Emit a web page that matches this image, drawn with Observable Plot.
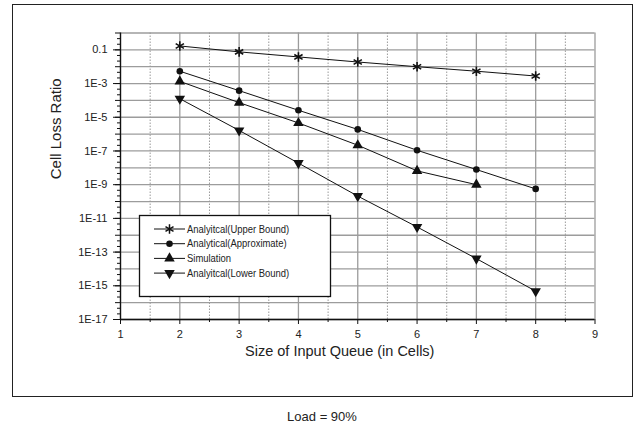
<!DOCTYPE html>
<html>
<head>
<meta charset="utf-8">
<script src="https://cdn.jsdelivr.net/npm/d3@7"></script>
<script src="https://cdn.jsdelivr.net/npm/@observablehq/plot@0.6"></script>
<style>
  html, body { margin: 0; padding: 0; background: #fff; }
  #wrap { position: relative; width: 644px; height: 431px; overflow: hidden; font-family: "Liberation Sans", Arial, sans-serif; }
  #border { position: absolute; left: 12px; top: 4px; width: 619px; height: 391px; border: 1.3px solid #222; }
  #chart { position: absolute; left: 0; top: 0; }
  #caption { position: absolute; left: 0; top: 409px; width: 644px; text-align: center; font-size: 13px; color: #222; }
</style>
</head>
<body>
<div id="wrap">
  <div id="border"></div>
  <div id="chart"></div>
  <div id="caption">Load = 90%</div>
</div>
<script>
// ---- data ----
const queueSizes = [2, 3, 4, 5, 6, 7, 8];
const upperBound = [0.17, 0.076, 0.038, 0.019, 0.010, 0.0054, 0.0028];
const approximate = [5.4e-3, 3.8e-4, 2.6e-5, 1.9e-6, 1.1e-7, 7.9e-9, 5.6e-10];
const simulation = [1.35e-3, 7.4e-5, 4.6e-6, 2.2e-7, 6.6e-9, 1.0e-9];
const lowerBound = [1.26e-4, 1.66e-6, 1.9e-8, 2.1e-10, 3.1e-12, 4.1e-14, 4.8e-16];

const seriesNames = ["Analyitcal(Upper Bound)", "Analytical(Approximate)", "Simulation", "Analyitcal(Lower Bound)"];
const xTicks = [1, 2, 3, 4, 5, 6, 7, 8, 9];
const xHalfTicks = [1.5, 2.5, 3.5, 4.5, 5.5, 6.5, 7.5, 8.5];
const yTickValues = [1e-1, 1e-3, 1e-5, 1e-7, 1e-9, 1e-11, 1e-13, 1e-15, 1e-17];
const yTickLabels = ["0.1", "1E-3", "1E-5", "1E-7", "1E-9", "1E-11", "1E-13", "1E-15", "1E-17"];
const decades = d3.range(0, 18).map(k => Math.pow(10, -k));
const minorTicks = d3.range(0, 17).flatMap(k => [Math.pow(10, -k - 1 / 3), Math.pow(10, -k - 2 / 3)]);

// ---- long-form table ----
const seriesValues = [upperBound, approximate, simulation, lowerBound];
const rows = seriesValues.flatMap((vals, s) => vals.map((v, i) => ({ series: seriesNames[s], x: queueSizes[i], y: v })));
const bySeries = name => rows.filter(r => r.series === name);

const labelOf = d => yTickLabels[yTickValues.indexOf(d)];

const chart = Plot.plot({
  width: 644,
  height: 400,
  marginLeft: 120,
  marginRight: 49.5,
  marginTop: 32.5,
  marginBottom: 81,
  style: { fontFamily: "'Liberation Sans', Arial, sans-serif", fontSize: "11px", color: "#222", background: "transparent" },
  x: { domain: [1, 9] },
  y: { type: "log", domain: [1e-17, 1] },
  marks: [
    Plot.ruleY(decades, { stroke: "#9c9c9c", strokeWidth: 1.3 }),
    Plot.ruleX(xTicks, { stroke: "#9c9c9c", strokeWidth: 1.3 }),
    Plot.ruleX(xHalfTicks, { stroke: "#9a9a9a", strokeWidth: 1, strokeDasharray: "1.5,1.5" }),
    Plot.ruleX([1], { stroke: "#111", strokeWidth: 1.3 }),
    Plot.ruleY([1e-17], { stroke: "#111", strokeWidth: 1.3 }),
    Plot.axisY({ ticks: minorTicks, tickSize: 3, tickFormat: () => "", label: null, stroke: "#111" }),
    Plot.axisY({ ticks: decades, tickSize: 5, tickFormat: () => "", label: null, stroke: "#111" }),
    Plot.axisY({ ticks: yTickValues, tickSize: 7, tickPadding: 6, tickFormat: labelOf, label: null, stroke: "#111", fill: "#222" }),
    Plot.axisX({ ticks: xHalfTicks, tickSize: 3, tickFormat: () => "", label: null, stroke: "#111" }),
    Plot.axisX({ ticks: xTicks, tickSize: 5, tickPadding: 6, tickFormat: d => String(d), label: null, stroke: "#111", fill: "#222" }),
    Plot.text(["Size of Input Queue (in Cells)"], { text: d => d, frameAnchor: "bottom", dy: 36, dx: -18, fontSize: 14.5, fill: "#222" }),
    Plot.text(["Cell Loss Ratio"], { text: d => d, frameAnchor: "left", rotate: -90, dx: -64, dy: 3, fontSize: 15, fill: "#222" }),
    Plot.line(rows, { x: "x", y: "y", z: "series", stroke: "#111", strokeWidth: 1 }),
    Plot.dot(bySeries(seriesNames[0]), { x: "x", y: "y", symbol: "asterisk", r: 4.5, stroke: "#111", strokeWidth: 1.6 }),
    Plot.dot(bySeries(seriesNames[1]), { x: "x", y: "y", symbol: "circle", r: 3.3, fill: "#111" }),
    Plot.dot(bySeries(seriesNames[2]), { x: "x", y: "y", symbol: "triangle", r: 3.9, fill: "#111" }),
    Plot.dot(bySeries(seriesNames[3]), { x: "x", y: "y", symbol: "triangle", r: 3.9, fill: "#111", rotate: 180 })
  ]
});
document.getElementById("chart").appendChild(chart);

// ---- legend box ----
const svg = d3.select(chart);
const lg = svg.append("g")
  .attr("font-family", "'Liberation Sans', Arial, sans-serif")
  .attr("font-size", 10.5)
  .attr("text-anchor", "start");
lg.append("rect").attr("x", 139.5).attr("y", 215.5).attr("width", 191).attr("height", 81)
  .attr("fill", "#fff").attr("stroke", "#111").attr("stroke-width", 1.3);
const legendSymbols = [
  { type: d3.symbolAsterisk, size: 60, fill: "none", stroke: "#111", rot: 0 },
  { type: d3.symbolCircle, size: 34, fill: "#111", stroke: "none", rot: 0 },
  { type: d3.symbolTriangle, size: 48, fill: "#111", stroke: "none", rot: 0 },
  { type: d3.symbolTriangle, size: 48, fill: "#111", stroke: "none", rot: 180 }
];
seriesNames.forEach((name, i) => {
  const y = 229 + i * 14.7;
  lg.append("line").attr("x1", 154).attr("x2", 185).attr("y1", y).attr("y2", y).attr("stroke", "#111").attr("stroke-width", 1);
  const s = legendSymbols[i];
  lg.append("path").attr("d", d3.symbol(s.type, s.size)())
    .attr("transform", `translate(169.5,${y}) rotate(${s.rot})`)
    .attr("fill", s.fill).attr("stroke", s.stroke).attr("stroke-width", 1.5);
  lg.append("text")
    .attr("transform", `translate(187,${y}) scale(0.9,1)`)
    .attr("dy", "0.35em")
    .attr("text-anchor", "start")
    .attr("fill", "#222")
    .text(name);
});
</script>
</body>
</html>
